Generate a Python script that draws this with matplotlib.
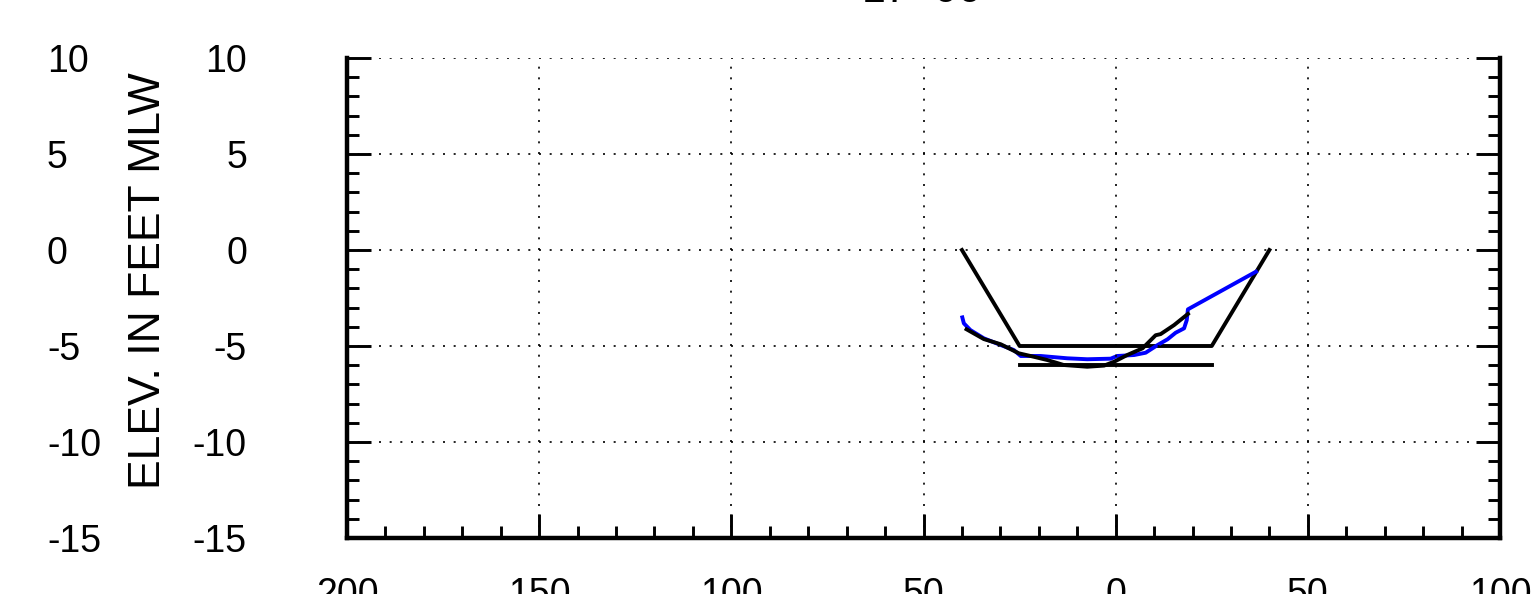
import matplotlib
matplotlib.use("Agg")
import matplotlib.pyplot as plt
import matplotlib.transforms as mtransforms
import numpy as np

plt.rcParams["font.family"] = ["Liberation Sans", "DejaVu Sans"]

# design template (channel + overdepth)
template_x = [40, 25, -25, -40]
template_y = [0, -5, -5, 0]
overdepth_x = [25, -25]
overdepth_y = [-6, -6]

# survey 1 (blue)
blue_x = [39.9, 39.5, 37.8, 34.3, 29.9, 26.5, 24.7, 19.5, 12.6, 7.4, 1.3, -0.4,
          -4.8, -7.8, -10.9, -13.5, -15.6, -17.8, -18.5, -18.8, -36.5]
blue_y = [-3.51, -3.82, -4.17, -4.6, -4.95, -5.21, -5.52, -5.52, -5.64, -5.69,
          -5.66, -5.52, -5.47, -5.35, -4.95, -4.65, -4.31, -4.08, -3.65, -3.09, -1.13]

# survey 2 (black)
black_x = [38.8, 34.3, 29.9, 25.2, 21.3, 17.8, 13.5, 7.4, 3.0, 0.4, -3.0, -7.0,
           -10.4, -11.7, -15.2, -18.8]
black_y = [-4.13, -4.64, -4.91, -5.38, -5.56, -5.73, -5.99, -6.08, -6.02, -5.82,
           -5.47, -5.12, -4.44, -4.38, -3.91, -3.33]

x_ticks = [200, 150, 100, 50, 0, -50, -100]
x_labels = ["200", "150", "100", "50", "0", "50", "100"]
y_ticks = [10, 5, 0, -5, -10, -15]
y_labels = ["10", "5", "0", "-5", "-10", "-15"]

W, H = 1537, 594
fig = plt.figure(figsize=(W / 100, H / 100), dpi=100)
ax = fig.add_axes([347 / W, 1 - 538 / H, (1500 - 347) / W, (538 - 58) / H])

ax.plot(template_x, template_y, color="black", lw=2.8)
ax.plot(overdepth_x, overdepth_y, color="black", lw=2.8)
ax.plot(blue_x, blue_y, color="#0000ff", lw=2.8)
ax.plot(black_x, black_y, color="black", lw=2.8)

ax.set_xlim(200, -100)
ax.set_ylim(-15, 10)
ax.set_xticks(x_ticks, x_labels)
ax.set_yticks(y_ticks, y_labels)
ax.set_xticks(np.arange(-100, 201, 10), minor=True)
ax.set_yticks(np.arange(-15, 11, 1), minor=True)

ax.grid(True, which="major", color="black", lw=1.2, linestyle=(0, (1.2, 5.2)))
ax.set_axisbelow(False)

for side in ["left", "right", "bottom"]:
    ax.spines[side].set_linewidth(3.2)
ax.spines["top"].set_visible(False)

ax.tick_params(which="both", direction="in", left=True, right=True, bottom=True,
               top=False, width=2.1, labelsize=27)
ax.tick_params(which="major", length=17)
ax.tick_params(which="minor", length=8.5)
ax.tick_params(axis="y", which="major", pad=72)
ax.tick_params(axis="x", which="major", pad=28)

# second column of elevation labels
trans = mtransforms.blended_transform_factory(fig.transFigure, ax.transData)
for yv, lab in zip(y_ticks, y_labels):
    ax.text(47 / W, yv, lab, transform=trans, ha="left", va="center_baseline",
            fontsize=27, clip_on=False)

fig.text(149 / W, 1 - 281 / H, "ELEV. IN FEET MLW", rotation=90,
         ha="center", va="center", fontsize=32)

fig.text(862 / W, 1 - 2 / H, "17+00", ha="left", va="baseline", fontsize=31)

fig.savefig("out.png", dpi=100)
